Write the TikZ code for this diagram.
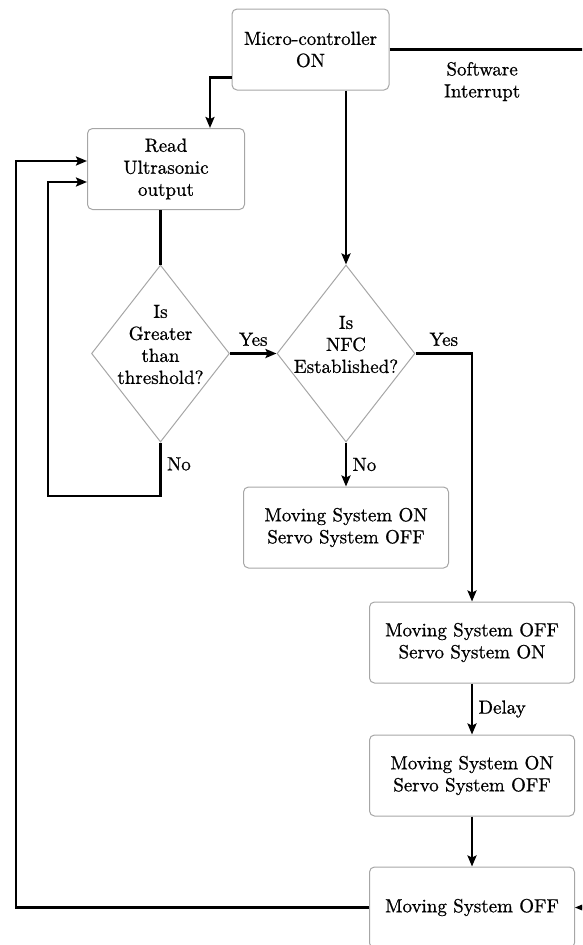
\documentclass[tikz,border=0pt]{standalone}
\usepackage{fontspec}
\setmainfont{lmroman10-regular}[Extension=.otf,FakeBold=0.8]
\usetikzlibrary{arrows.meta,positioning,shapes.geometric}

\begin{document}
\begin{tikzpicture}[x=1pt,y=1pt,on grid,
        font=\fontsize{19}{22}\selectfont,
        >={Stealth[length=11pt,width=9pt,inset=2pt]},
        box/.style={rectangle,rounded corners=5pt,draw=gray!70,line width=1pt,
            minimum width=157pt,minimum height=81pt,align=center,inner sep=2pt},
        widebox/.style={box,minimum width=205pt},
        decision/.style={diamond,draw=gray!70,line width=1pt,
            minimum width=138pt,minimum height=177pt,inner sep=0pt},
        question/.style={align=center,yshift=9pt},
        flow/.style={line width=2.4pt},
        tag/.style={align=center}]
        \useasboundingbox (0,0) rectangle (582,-945);
        \clip (0,0) rectangle (582,-945);

        \node[box] (mcu) at (310.5,-49.5) {Micro-controller\\ON};
        \node[box] (read) at (166,-169) {Read\\Ultrasonic\\output};
        \node[decision,label={[question]center:Is\\Greater\\than\\threshold?}] (thr) at (160.5,-353.5) {};
        \node[decision,label={[question]center:Is\\NFC\\Established?}] (nfc) [right=185.5pt of thr] {};
        \node[widebox] (mon1) [below=174pt of nfc] {Moving System ON\\Servo System OFF};
        \node[widebox] (moff) at (472,-642.5) {Moving System OFF\\Servo System ON};
        \node[widebox] (mon2) [below=133pt of moff] {Moving System ON\\Servo System OFF};
        \node[widebox] (off) [below=132pt of mon2] {Moving System OFF};

        % turning points of the loops and the interrupt line
        \coordinate (loop) at (48,-496);
        \coordinate (back) at (16,-600);
        \coordinate (irq) at (600,-49.5);

        \draw[flow,->] ([yshift=-28pt]mcu.west) -| ([xshift=44pt]read.north);
        \draw[flow,->] (mcu.south -| nfc.north) -- (nfc.north);
        \draw[flow,->] (mcu.east) -- node[tag,below=8pt,pos=.44] {Software\\Interrupt} (irq) |- (off.east);
        \draw[flow] (read.south -| thr.north) -- (thr.north);
        \draw[flow,->] (thr.east) -- node[above=3pt] {Yes} (nfc.west);
        \draw[flow,->] (thr.south) -- node[right=2pt,pos=.4] {No} (thr.south |- loop)
            -- (loop) |- ([yshift=-13pt]read.west);
        \draw[flow,->] (nfc.south) -- node[right=2pt] {No} (mon1.north);
        \draw[flow,->] (nfc.east) -| node[above=3pt,pos=.25] {Yes} (moff.north);
        \draw[flow,->] (moff) -- node[right=2pt] {Delay} (mon2);
        \draw[flow,->] (mon2) -- (off);
        \draw[flow,->] (off.west) -| (back) |- ([yshift=8pt]read.west);
\end{tikzpicture}
\end{document}
